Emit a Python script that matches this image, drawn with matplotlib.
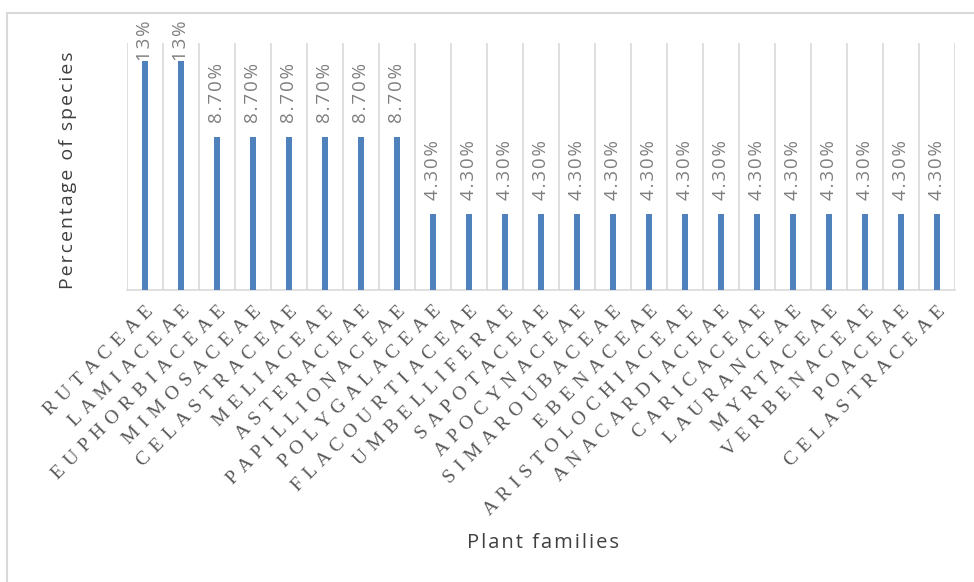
import numpy as np
import matplotlib
matplotlib.use("Agg")
import matplotlib.pyplot as plt
from matplotlib.lines import Line2D

# plant families and share of species (%)
families = ["RUTACEAE", "LAMIACEAE", "EUPHORBIACEAE", "MIMOSACEAE", "CELASTRACEAE",
            "MELIACEAE", "ASTERACEAE", "PAPILLIONACEAE", "POLYGALACEAE", "FLACOURTIACEAE",
            "UMBELLIFERAE", "SAPOTACEAE", "APOCYNACEAE", "SIMAROUBACEAE", "EBENACEAE",
            "ARISTOLOCHIACEAE", "ANACARDIACEAE", "CARICACEAE", "LAURANCEAE", "MYRTACEAE",
            "VERBENACEAE", "POACEAE", "CELASTRACEAE"]
percent = [13, 13, 8.7, 8.7, 8.7, 8.7, 8.7, 8.7, 4.3, 4.3, 4.3, 4.3, 4.3, 4.3, 4.3,
           4.3, 4.3, 4.3, 4.3, 4.3, 4.3, 4.3, 4.3]
value_labels = ["13%", "13%"] + ["8.70%"] * 6 + ["4.30%"] * 15

W, H = 974, 582
fig = plt.figure(figsize=(W / 100, H / 100), dpi=100)
ax = fig.add_axes([127 / W, 1 - 290 / H, (955 - 127) / W, (290 - 43) / H])

x = np.arange(len(families))
ax.bar(x, percent, width=0.17, color="#4f81bd", zorder=3)

ax.set_xlim(-0.5, len(families) - 0.5)
ax.set_ylim(0, 14)

# category separators
for b in np.arange(-0.5, len(families), 1.0):
    ax.axvline(b, color="#d9d9d9", lw=1.2, zorder=1)

for side in ["top", "right", "left"]:
    ax.spines[side].set_visible(False)
ax.spines["bottom"].set_color("#d9d9d9")
ax.spines["bottom"].set_linewidth(1.2)
ax.set_yticks([])
ax.tick_params(axis="x", length=0, pad=9)

def spread(s, sep):
    return sep.join(list(s))

ax.set_xticks(x)
ax.set_xticklabels([spread(f, " \u200a") for f in families], rotation=45, ha="right",
                   va="top", rotation_mode="anchor",
                   family=["Liberation Serif", "DejaVu Serif"],
                   fontsize=14, color="#595959")

for xi, v, lab in zip(x, percent, value_labels):
    off = 0 if v > 12 else 10
    ax.annotate(spread(lab, "\u200a"), (xi, v), xytext=(0, off), textcoords="offset points",
                rotation=90, ha="center", va="bottom", fontsize=13.5,
                family=["Open Sans", "DejaVu Sans"], color="#7f7f7f")

fig.text(68 / W, 1 - 170 / H, spread("Percentage of species", "\u200a"), rotation=90,
         ha="center", va="center", fontsize=14, family=["Open Sans", "DejaVu Sans"],
         color="#404040")
fig.text(543 / W, 1 - 543 / H, spread("Plant families", "\u200a"), ha="center",
         va="center", fontsize=14.5, family=["Open Sans", "DejaVu Sans"], color="#404040")

# chart border (left and top visible)
fig.add_artist(Line2D([7 / W, 7 / W], [0, 1 - 13 / H], transform=fig.transFigure,
                      color="#d9d9d9", lw=1.5))
fig.add_artist(Line2D([7 / W, 1], [1 - 13 / H, 1 - 13 / H], transform=fig.transFigure,
                      color="#d9d9d9", lw=1.5))

fig.savefig("out.png", dpi=100)
